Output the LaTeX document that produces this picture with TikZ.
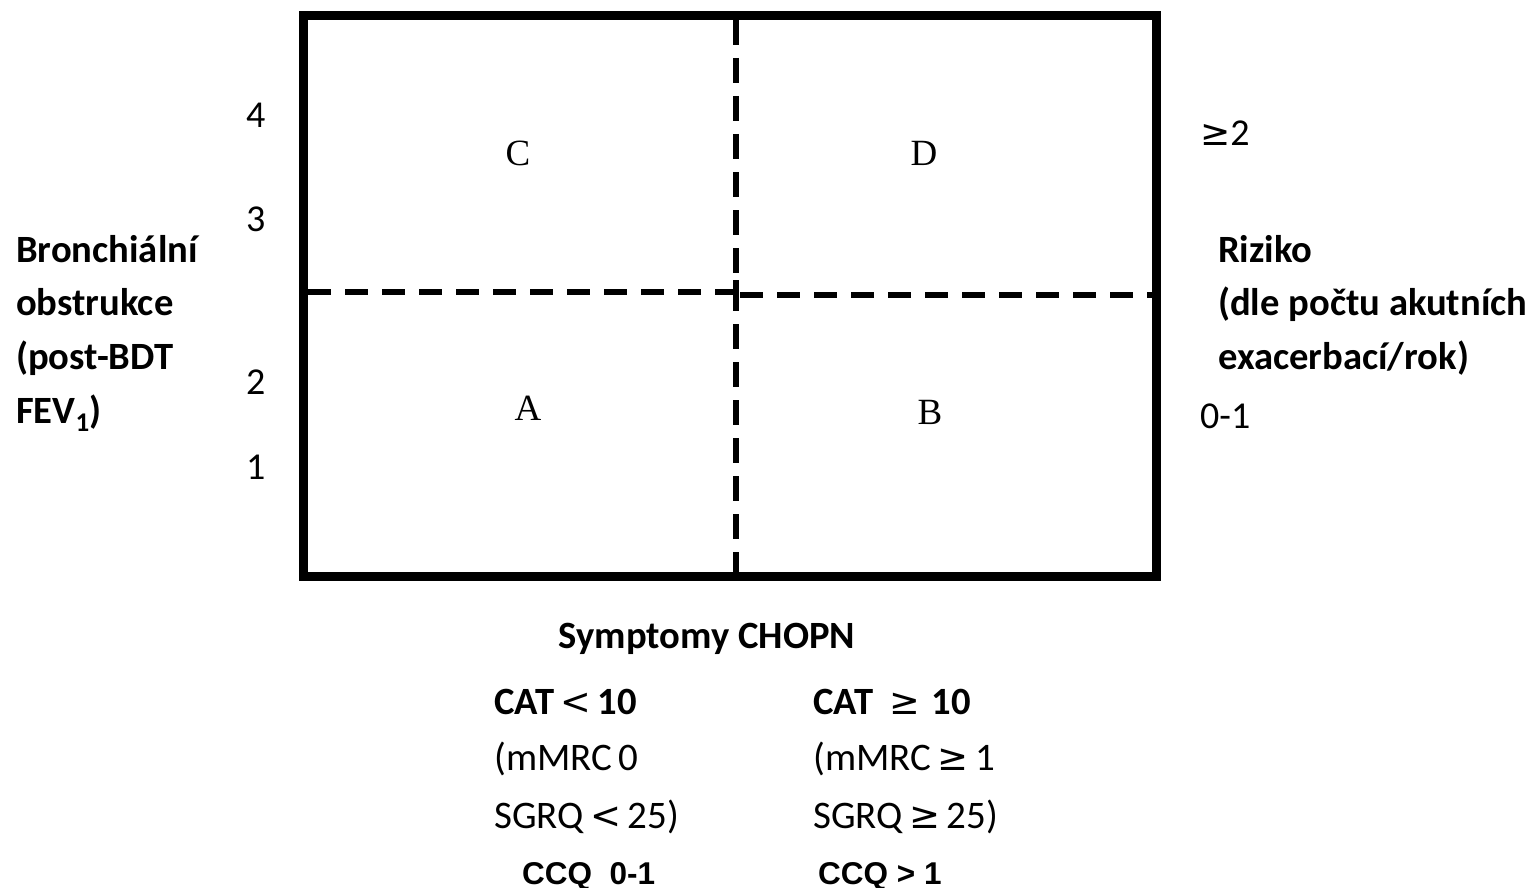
\documentclass[tikz,border=0pt]{standalone}
\usepackage{fontspec}
\setmainfont{Carlito}
\newfontfamily\serifletter{Liberation Serif}
\newfontfamily\relfont{DejaVu Sans}[Scale=0.95]
\newfontfamily\arialbold{Liberation Sans}[BoldFont={* Bold}]
\newcommand{\relge}{{\relfont\mdseries ≥}}
\newcommand{\rellt}{{\relfont\mdseries <}}
\begin{document}
\begin{tikzpicture}[x=1pt,y=-1pt,
  frame/.style={line width=9pt,line join=miter},
  divider/.style={line width=5.5pt,dash pattern=on 23pt off 14pt},
  vdivider/.style={line width=6pt,dash pattern=on 25pt off 13pt},
  quad/.style={font=\serifletter\fontsize{37}{40}\selectfont,anchor=base,inner sep=0pt},
  tick/.style={font=\fontsize{38}{44}\selectfont,anchor=base west,inner sep=0pt},
  axis/.style={font=\bfseries\fontsize{38.6}{44}\selectfont,anchor=base west,inner sep=0pt},
  note/.style={font=\fontsize{39}{44}\selectfont,anchor=base west,inner sep=0pt},
  ccq/.style={font=\arialbold\bfseries\fontsize{31.5}{36}\selectfont,anchor=base west,inner sep=0pt}]
\useasboundingbox (0,0) rectangle (1534,888);

% grid frame and corner points
\coordinate (tl) at (303.5,15.5);
\coordinate (br) at (1156.5,576.5);
\coordinate (vt) at (736,20);
\coordinate (vb) at (736,572);
\coordinate (hl) at (308,292);
\coordinate (hm) at (736,292);
\coordinate (hm2) at (740,295);
\coordinate (hr) at (1152,295);

% dividers
\draw[vdivider] (vt) -- (vb);
\draw[divider] (hl) -- (hm);
\draw[divider] (hm2) -- (hr);
\draw[line width=5.5pt] (hm) -- (736,280);
\draw[frame] (tl) rectangle (br);

% quadrant letters
\node[quad] (qc) at (518,165) {C};
\node[quad] (qd) at (924,165) {D};
\node[quad] (qa) at (528,420) {A};
\node[quad] (qb) at (930,424) {B};

% left scale
\node[tick] (t4) at (246,128) {4};
\node[tick] (t3) at (246,231) {3};
\node[tick] (t2) at (246,394) {2};
\node[tick] (t1) at (246,479) {1};

\node[axis] (l1) at (16,262) {Bronchiální};
\node[axis] (l2) at (16,315) {obstrukce};
\node[axis] (l3) at (16,369) {(post-BDT};
\node[axis] (l4) at (16,423) {FEV\textsubscript{1})};

% right scale
\node[tick] (rhi) at (1200,146) {\relge2};
\node[axis] (r1) at (1218,262) {Riziko};
\node[axis] (r2) at (1218,315) {(dle počtu akutních};
\node[axis] (r3) at (1218,369) {exacerbací/rok)};
\node[tick] (rlo) at (1200,428) {0-1};

% symptom axis
\node[axis,anchor=base] (sym) at (707,648) {Symptomy CHOPN};
\node[axis] (c1) at (494,714) {CAT\,\rellt\,10};
\node[axis] (c2) at (813,714) {CAT\hspace{16pt}\relge\hspace{12pt}10};
\node[note] (m1) at (494,770) {(mMRC\,0};
\node[note] (m2) at (813,770) {(mMRC\,\relge\,1};
\node[note] (s1) at (494,828) {SGRQ\,\rellt\,25)};
\node[note] (s2) at (813,828) {SGRQ\,\relge\,25)};
\node[ccq] (q1) at (522,884) {CCQ\ \ 0-1};
\node[ccq] (q2) at (818,884) {CCQ > 1};
\end{tikzpicture}
\end{document}
